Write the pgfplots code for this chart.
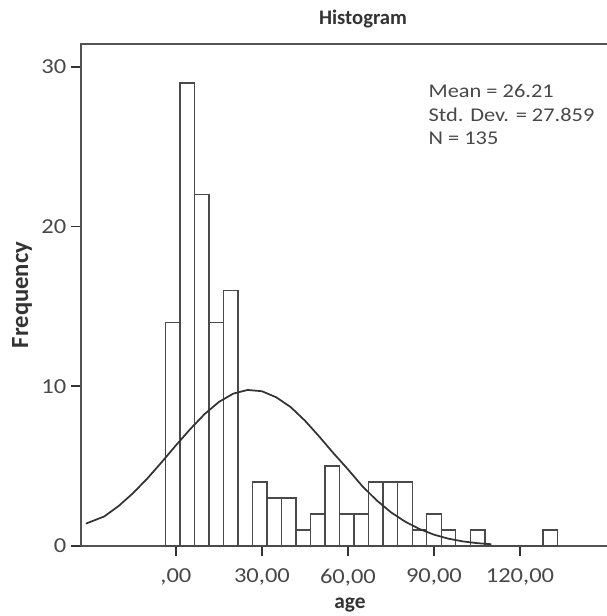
\documentclass[border=0pt]{standalone}
\usepackage{fontspec}
\setmainfont{Carlito}
\newfontfamily\wide[FakeStretch=1.15]{Carlito}
\usepackage{pgfplots}
\pgfplotsset{compat=1.18}
\definecolor{ink}{HTML}{333333}
\definecolor{bar}{HTML}{4A4A4A}
\definecolor{lbl}{HTML}{484848}

\begin{document}
\begin{tikzpicture}
\begin{axis}[
  scale only axis,
  width=423pt, height=376.5pt,
  xmin=-33.1, xmax=163.6, ymin=0, ymax=31.43,
  clip=false,
  axis line style={draw=none},
  tick align=outside, tick pos=left,
  major tick length=7.5pt,
  tick style={ink, line width=1.2pt},
  xtick={0,30,60,90,120},
  xticklabels={{,00},{30,00},{60,00},{90,00},{120,00}},
  ytick={0,10,20,30},
  yticklabels={0,10,20,30},
  ticklabel style={font=\wide\fontsize{16}{19}\selectfont, text=lbl},
  xticklabel style={yshift=-6pt},
  title={Histogram},
  title style={at={(axis description cs:0.5,1)}, anchor=center, yshift=12.5pt,
    font=\fontsize{15.5}{18}\selectfont\bfseries, text=ink},
  xlabel={age},
  xlabel style={at={(axis description cs:0.477,-0.118)}, anchor=center,
    font=\fontsize{16}{19}\selectfont\bfseries, text=ink},
  ylabel={Frequency},
  ylabel style={at={(axis description cs:-0.1046,0.5)}, anchor=center, rotate=0,
    font=\fontsize{18.5}{21}\selectfont\bfseries, text=ink},
]
% frame (right side is cropped off in the reference)
\draw[ink!85, line width=1.4pt] (rel axis cs:0,0) -- (rel axis cs:0,1) -- (rel axis cs:1,1);
\draw[ink!85, line width=1.4pt] (rel axis cs:0,0) -- (rel axis cs:1,0);

% bin counts, width about 5.06
\addplot[ybar interval, draw=bar, fill=white, line width=1.1pt] coordinates {
  (-3.60,14) (1.46,29) (6.52,22) (11.58,14) (16.64,16) (21.70,0)
  (26.76,4) (31.82,3) (36.88,3) (41.94,1) (47.00,2) (52.06,5)
  (57.12,2) (62.18,2) (67.24,4) (72.30,4) (77.36,4) (82.42,1)
  (87.48,2) (92.54,1) (97.60,0) (102.66,1) (107.72,0) (112.78,0)
  (117.84,0) (122.90,0) (127.96,1) (133.02,1)
};

% normal curve
\addplot[ink, line width=1.3pt] coordinates {
  (-31.4,1.40) (-25,1.85) (-20,2.50) (-15,3.30) (-10,4.22) (-5,5.24)
  (0,6.30) (5,7.32) (10,8.26) (15,9.02) (20,9.54) (25,9.77) (30,9.69)
  (35,9.31) (40,8.70) (45,7.85) (50,6.85) (55,5.80) (60,4.80) (65,3.75)
  (70,2.86) (75,2.11) (80,1.52) (85,1.06) (90,0.71) (95,0.46) (100,0.29)
  (105,0.18) (110,0.11)
};

\node[anchor=west, font=\wide\fontsize{14.6}{17}\selectfont, text=lbl] at (axis cs:86.5,28.50) {Mean = 26.21};
\node[anchor=west, font=\wide\fontsize{14.6}{17}\selectfont, text=lbl] at (axis cs:86.5,27.00) {Std. Dev. = 27.859};
\node[anchor=west, font=\wide\fontsize{14.6}{17}\selectfont, text=lbl] at (axis cs:86.5,25.53) {N = 135};
\end{axis}
\pgfresetboundingbox
\path (-60.75pt,-52.5pt) rectangle (393.75pt,409.5pt);
\end{tikzpicture}
\end{document}
